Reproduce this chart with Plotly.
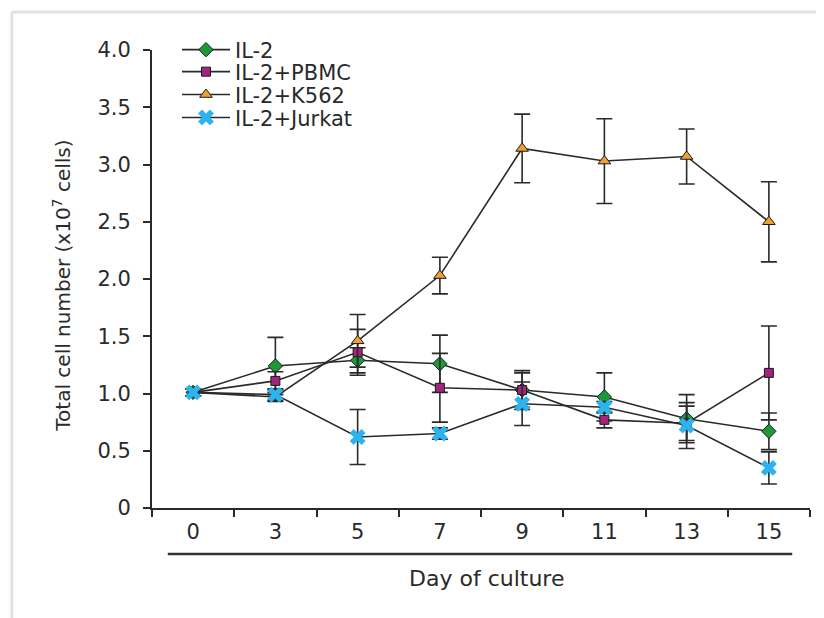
import plotly.graph_objects as go

days = ["0", "3", "5", "7", "9", "11", "13", "15"]

il2 = [1.01, 1.24, 1.29, 1.26, 1.03, 0.97, 0.78, 0.67]
il2_err = [0.03, 0.25, 0.11, 0.25, 0.17, 0.21, 0.21, 0.16]

pbmc = [1.01, 1.11, 1.36, 1.05, 1.03, 0.77, 0.74, 1.18]
pbmc_err = [0.03, 0.08, 0.20, 0.30, 0.15, 0.07, 0.15, 0.41]

k562 = [1.01, 0.97, 1.46, 2.03, 3.14, 3.03, 3.07, 2.50]
k562_err = [0.03, 0.04, 0.23, 0.16, 0.30, 0.37, 0.24, 0.35]

jurkat = [1.01, 0.99, 0.62, 0.65, 0.91, 0.88, 0.72, 0.35]
jurkat_err = [0.03, 0.05, 0.24, 0.05, 0.19, 0.05, 0.20, 0.14]

series_names = ["IL-2", "IL-2+PBMC", "IL-2+K562", "IL-2+Jurkat"]

FONT = "DejaVu Sans, Liberation Sans, sans-serif"
LINE = "#2a2a2a"
TXT = "#2a2a2a"

fig = go.Figure()

styles = [
    (il2, il2_err, dict(symbol="diamond", size=11, color="#1c9a3a", line=dict(color="#1a1a1a", width=1))),
    (pbmc, pbmc_err, dict(symbol="square", size=9, color="#a3247e", line=dict(color="#1a1a1a", width=1))),
    (k562, k562_err, dict(symbol="triangle-up", size=11, color="#f0a030", line=dict(color="#1a1a1a", width=1))),
    (jurkat, jurkat_err, dict(symbol="x", size=14, color="#2bb4ee", line=dict(width=0))),
]
legend_ids = ["legend", "legend2", "legend3", "legend4"]

for name, lid, (vals, errs, mk) in zip(series_names, legend_ids, styles):
    fig.add_trace(go.Scatter(
        x=days, y=vals, name=name, mode="lines+markers",
        line=dict(color=LINE, width=1.6),
        marker=mk, legend=lid,
        error_y=dict(type="data", array=errs, visible=True, color=LINE, thickness=1.6, width=8),
    ))

leg_common = dict(x=0.038, xanchor="left", yanchor="middle", bgcolor="rgba(0,0,0,0)",
                  font=dict(family=FONT, size=21, color=TXT), itemwidth=48)
leg_y = [1.0, 0.952, 0.902, 0.852]

fig.update_layout(
    width=816, height=610,
    margin=dict(l=144, r=14, t=42, b=110),
    paper_bgcolor="white", plot_bgcolor="white",
    font=dict(family=FONT, size=21, color=TXT),
    showlegend=True,
    legend=dict(y=leg_y[0], **leg_common),
    legend2=dict(y=leg_y[1], **leg_common),
    legend3=dict(y=leg_y[2], **leg_common),
    legend4=dict(y=leg_y[3], **leg_common),
    xaxis=dict(
        type="category", range=[-0.5, 7.5], tickson="boundaries",
        showline=True, linecolor=LINE, linewidth=2,
        ticks="outside", ticklen=7, tickwidth=1.6, tickcolor=LINE,
        showgrid=False, zeroline=False, ticklabelstandoff=4,
        tickfont=dict(size=21),
    ),
    yaxis=dict(
        range=[0, 4], tickvals=[0, 0.5, 1, 1.5, 2, 2.5, 3, 3.5, 4],
        ticktext=["0", "0.5", "1.0", "1.5", "2.0", "2.5", "3.0", "3.5", "4.0"],
        showline=True, linecolor=LINE, linewidth=2,
        ticks="outside", ticklen=7, tickwidth=1.6, tickcolor=LINE,
        showgrid=False, zeroline=False, ticklabelstandoff=8,
        tickfont=dict(size=21),
    ),
    annotations=[
        dict(text="Day of culture", xref="paper", yref="paper", x=0.508, y=-0.153,
             xanchor="center", yanchor="middle", showarrow=False, font=dict(size=22)),
        dict(text="Total cell number (x10<sup>7</sup> cells)", xref="paper", yref="paper",
             x=-0.137, y=0.485, xanchor="center", yanchor="middle", textangle=-90,
             showarrow=False, font=dict(size=20)),
    ],
    shapes=[
        dict(type="line", xref="paper", yref="paper", x0=0.024, x1=0.973, y0=-0.1004, y1=-0.1004,
             line=dict(color="#333333", width=2.5)),
        # light gray picture frame
        dict(type="line", xref="paper", yref="paper", x0=-0.213, x1=1.03, y0=1.083, y1=1.083,
             line=dict(color="#e2e2e2", width=3)),
        dict(type="line", xref="paper", yref="paper", x0=-0.213, x1=-0.213, y0=1.083, y1=-0.25,
             line=dict(color="#e2e2e2", width=3)),
    ],
)

fig.write_html("out.html")
